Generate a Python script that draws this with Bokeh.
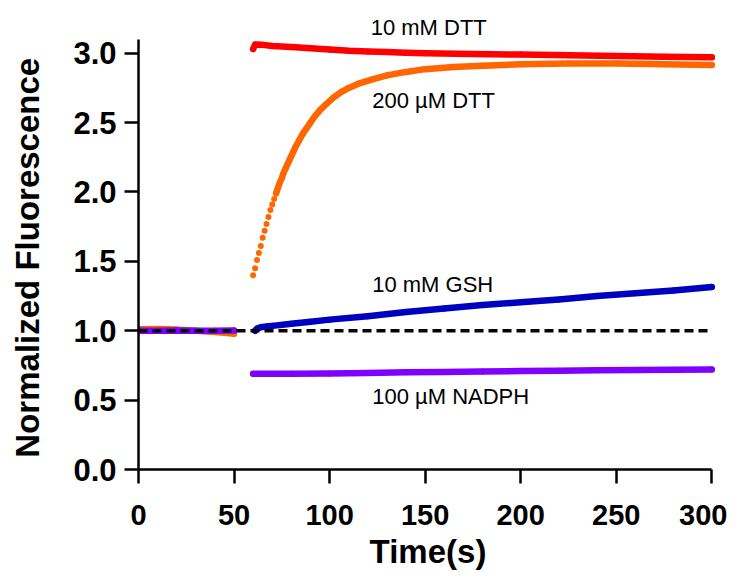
from bokeh.plotting import figure
from bokeh.models import Range1d, FixedTicker, NumeralTickFormatter, Label
from bokeh.embed import file_html
from bokeh.resources import INLINE

# ---- data ----
red_t = [60, 61, 65, 70, 80, 90, 100, 110, 120, 130, 140, 150, 175, 200, 225, 250, 275, 300]
red_y = [3.03, 3.062, 3.06, 3.052, 3.045, 3.035, 3.027, 3.018, 3.013, 3.008, 3.004, 3.0, 2.995, 2.99, 2.985, 2.98, 2.975, 2.97]

orange_t = [60, 61, 62, 63, 64, 65, 66, 67, 68, 69, 70, 71, 72, 73, 74, 75, 76, 77, 78, 79, 80,
            82, 84, 86, 88, 90, 92, 95, 98, 102, 106, 110, 116, 122, 130, 140, 150, 165, 180,
            200, 225, 250, 275, 300]
orange_y = [1.40, 1.45, 1.51, 1.56, 1.61, 1.67, 1.72, 1.77, 1.82, 1.87, 1.91, 1.95, 1.99, 2.03, 2.07,
            2.10, 2.14, 2.17, 2.20, 2.23, 2.26, 2.32, 2.37, 2.42, 2.46, 2.50, 2.54, 2.59, 2.63,
            2.68, 2.72, 2.75, 2.785, 2.81, 2.84, 2.865, 2.885, 2.90, 2.91, 2.92, 2.925, 2.925,
            2.92, 2.915]

blue_t = [61, 62, 64, 67, 70, 80, 90, 100, 120, 140, 160, 180, 200, 220, 240, 260, 280, 300]
blue_y = [1.0, 1.015, 1.025, 1.03, 1.035, 1.05, 1.065, 1.08, 1.105, 1.135, 1.16, 1.185, 1.205,
          1.225, 1.25, 1.27, 1.29, 1.315]

purple_t = [60, 80, 100, 120, 140, 160, 180, 200, 220, 240, 260, 280, 300]
purple_y = [0.69, 0.69, 0.692, 0.695, 0.70, 0.703, 0.706, 0.709, 0.712, 0.715, 0.717, 0.719, 0.72]

orange_base_t = [0, 10, 20, 30, 40, 45, 50]
orange_base_y = [1.01, 1.012, 1.008, 1.0, 0.99, 0.985, 0.978]
purple_base_t = [0, 10, 20, 30, 40, 50]
purple_base_y = [1.0, 1.0, 1.002, 1.0, 1.0, 1.002]

ref_t = [0, 300]
ref_y = [1.0, 1.0]

x_ticks = [0, 50, 100, 150, 200, 250, 300]
y_ticks = [0.0, 0.5, 1.0, 1.5, 2.0, 2.5, 3.0]

series_labels = ["10 mM DTT", "200 \u00b5M DTT", "10 mM GSH", "100 \u00b5M NADPH"]

RED, ORANGE, BLUE, PURPLE = "#FF0000", "#FF6600", "#0000C0", "#7F00FF"

p = figure(frame_width=579, frame_height=451,
           x_range=Range1d(0, 303), y_range=Range1d(0, 3.25),
           output_backend="svg", toolbar_location=None,
           min_border_left=138, min_border_top=18, min_border_right=10,
           min_border_bottom=100)
p.outline_line_color = None
p.xgrid.visible = False
p.ygrid.visible = False
p.background_fill_color = "white"

W = 6.5
SZ = 6

def draw(t, y, color, line_from=None):
    if line_from is None:
        lt, ly = t, y
    else:
        lt = [a for a in t if a >= line_from]
        ly = [b for a, b in zip(t, y) if a >= line_from]
    p.line(lt, ly, line_color=color, line_width=W, line_cap="round", line_join="round")
    p.scatter(t, y, size=SZ, fill_color=color, line_color=color, line_width=0)

draw(red_t, red_y, RED)
draw(orange_base_t, orange_base_y, ORANGE)
draw(orange_t, orange_y, ORANGE, line_from=72)
draw(blue_t, blue_y, BLUE)
draw(purple_base_t, purple_base_y, PURPLE)
draw(purple_t, purple_y, PURPLE)

p.line(ref_t, ref_y, line_color="black", line_width=3.5, line_dash="9 5")

# axes
for ax in (p.xaxis[0], p.yaxis[0]):
    ax.axis_line_width = 2.5
    ax.axis_line_color = "black"
    ax.major_tick_line_width = 2.5
    ax.major_tick_line_color = "black"
    ax.major_tick_out = 14
    ax.major_tick_in = 0
    ax.minor_tick_line_color = None
    ax.major_label_text_font = "Liberation Sans"
    ax.major_label_text_font_style = "bold"
    ax.major_label_text_color = "black"
    ax.axis_label_text_font = "Liberation Sans"
    ax.axis_label_text_font_style = "bold"
    ax.axis_label_text_font_size = "33px"
    ax.axis_label_text_color = "black"

p.xaxis.ticker = FixedTicker(ticks=x_ticks)
p.yaxis.ticker = FixedTicker(ticks=y_ticks)
p.yaxis.formatter = NumeralTickFormatter(format="0.0")
p.xaxis.bounds = (0, 300)
p.yaxis.bounds = (0, 3.1)
p.xaxis.major_label_text_font_size = "29px"
p.yaxis.major_label_text_font_size = "31px"
p.xaxis.major_label_standoff = 21
p.yaxis.major_label_standoff = 8

p.xaxis.axis_label = "Time(s)"
p.xaxis.axis_label_standoff = 5
p.yaxis.axis_label = "Normalized Fluorescence\u00a0\u00a0\u00a0"
p.yaxis.axis_label_standoff = 24

label_pos = [(121.5, 3.185), (122.3, 2.656), (122.3, 1.333), (122.3, 0.529)]
for txt, (lx, ly) in zip(series_labels, label_pos):
    p.add_layout(Label(x=lx, y=ly, text=txt, text_align="left", text_baseline="middle",
                       text_font="Liberation Sans", text_font_size="22px",
                       text_color="black"))

open("out.html", "w").write(file_html(p, INLINE))
